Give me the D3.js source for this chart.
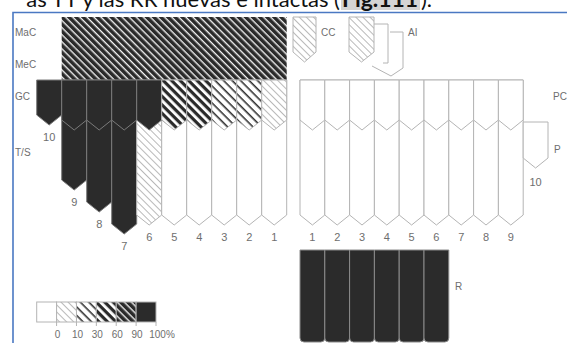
<!DOCTYPE html>
<html>
<head>
<meta charset="utf-8">
<script src="https://cdn.jsdelivr.net/npm/d3@7"></script>
<style>
  html, body { margin: 0; padding: 0; background: #fff; }
  svg { display: block; }
</style>
</head>
<body>
<svg id="chart" width="567" height="343"></svg>
<script>
// data
const rowLabels = ["MaC", "MeC", "GC", "T/S"];
const leftCols = ["10", "9", "8", "7", "6", "5", "4", "3", "2", "1"];
const gcClass = [5, 5, 5, 5, 5, 3, 3, 2, 2, 1];
const gcLen = [45, 50, 50, 50, 50, 50, 50, 50, 50, 50];
const tsClass = [null, 5, 5, 5, 1, 0, 0, 0, 0, 0];
const tsLen = [null, 110, 132, 154, 145, 145, 145, 145, 145, 145];
const rightCols = ["1", "2", "3", "4", "5", "6", "7", "8", "9", "10"];
const pcLen = [50, 50, 50, 50, 50, 50, 50, 50, 50];
const lowerLen = [145, 145, 145, 145, 145, 145, 145, 145, 145];
const pTop = 42, pLen = 88;
const rCols = ["1", "2", "3", "4", "5", "6"];
const rTop = 170, rBottom = 262;
const legendClasses = [0, 1, 2, 3, 4, 5];
const legendTicks = ["0", "10", "30", "60", "90", "100%"];

const svg = d3.select("#chart");
const defs = svg.append("defs");

const dark = "#2b2b2b";
const edge = "#b4b4b4";
const labelCol = "#6e6e6e";

// hatch patterns for the percentage classes
const hatchSpec = [
  null,
  {bg: "#fff", fg: "#a8a8a8", w: 0.8, p: 5},
  {bg: "#fff", fg: "#333", w: 1.6, p: 6},
  {bg: "#fff", fg: "#2a2a2a", w: 3.2, p: 6},
  {bg: "#2a2a2a", fg: "#f2f2f2", w: 1.4, p: 5},
  null
];
hatchSpec.forEach(function(h, i) {
  if (!h) return;
  const pat = defs.append("pattern")
    .attr("id", "h" + i)
    .attr("patternUnits", "userSpaceOnUse")
    .attr("width", h.p).attr("height", h.p)
    .attr("patternTransform", "rotate(45)");
  pat.append("rect").attr("width", h.p).attr("height", h.p).attr("fill", h.bg);
  pat.append("rect").attr("y", 0).attr("width", h.p).attr("height", h.w).attr("fill", h.fg);
});
function fillOf(c) {
  if (c === 0) return "#fff";
  if (c === 5) return dark;
  return "url(#h" + c + ")";
}
function strokeOf(c) {
  return c === 5 ? "#7a7a7a" : edge;
}

// scales
const y = d3.scaleLinear().domain([0, 263]).range([80, 343]);
const xl = d3.scaleBand().domain(leftCols).range([36.7, 286.7]);
const xr = d3.scaleBand().domain(rightCols).range([300, 548]);

function penta(x0, x1, top, tip, depth) {
  const m = (x0 + x1) / 2;
  return "M" + x0 + "," + top + "H" + x1 + "V" + (tip - depth) +
    "L" + m + "," + tip + "L" + x0 + "," + (tip - depth) + "Z";
}

// MaC / MeC block
svg.append("rect")
  .attr("x", xl("9")).attr("y", 17)
  .attr("width", xl("1") + xl.bandwidth() - xl("9"))
  .attr("height", y(0) - 17)
  .attr("fill", fillOf(4));
svg.append("line")
  .attr("x1", xl("9")).attr("x2", xl("1") + xl.bandwidth())
  .attr("y1", 48).attr("y2", 48)
  .attr("stroke", "#555").attr("stroke-width", 0.6).attr("opacity", 0.5);

// T/S teeth (under GC)
const left = leftCols.map(function(k, i) {
  return {k: k, gc: gcClass[i], gl: gcLen[i], ts: tsClass[i], tl: tsLen[i]};
});
svg.selectAll(".ts")
  .data(left.filter(function(d) { return d.ts !== null; }))
  .enter().append("path")
  .attr("d", function(d) { return penta(xl(d.k), xl(d.k) + xl.bandwidth(), y(0), y(d.tl), 10); })
  .attr("fill", function(d) { return fillOf(d.ts); })
  .attr("stroke", function(d) { return strokeOf(d.ts); })
  .attr("stroke-width", 1);

// GC teeth
svg.selectAll(".gc")
  .data(left)
  .enter().append("path")
  .attr("d", function(d) { return penta(xl(d.k), xl(d.k) + xl.bandwidth(), y(0), y(d.gl), 10); })
  .attr("fill", function(d) { return fillOf(d.gc); })
  .attr("stroke", function(d) { return strokeOf(d.gc); })
  .attr("stroke-width", 1);

// left tooth numbers
svg.selectAll(".lnum")
  .data(left)
  .enter().append("text")
  .attr("x", function(d) { return xl(d.k) + xl.bandwidth() / 2; })
  .attr("y", function(d) { return y(d.tl === null ? d.gl : d.tl) + 13; })
  .attr("text-anchor", "middle").attr("dominant-baseline", "middle")
  .style("font-family", "Liberation Sans, Arial, sans-serif")
  .style("font-size", "11px").style("fill", labelCol)
  .text(function(d) { return d.k; });

// right side: lower teeth then PC
const right = rightCols.slice(0, 9).map(function(k, i) {
  return {k: k, pl: pcLen[i], ll: lowerLen[i]};
});
svg.selectAll(".low")
  .data(right)
  .enter().append("path")
  .attr("d", function(d) { return penta(xr(d.k), xr(d.k) + xr.bandwidth(), y(0), y(d.ll), 10); })
  .attr("fill", "#fff").attr("stroke", edge).attr("stroke-width", 1);
svg.selectAll(".pc")
  .data(right)
  .enter().append("path")
  .attr("d", function(d) { return penta(xr(d.k), xr(d.k) + xr.bandwidth(), y(0), y(d.pl), 10); })
  .attr("fill", "#fff").attr("stroke", edge).attr("stroke-width", 1);
svg.append("path")
  .attr("d", penta(xr("10"), xr("10") + xr.bandwidth(), y(pTop), y(pLen), 10))
  .attr("fill", "#fff").attr("stroke", edge).attr("stroke-width", 1);

svg.selectAll(".rnum")
  .data(right)
  .enter().append("text")
  .attr("x", function(d) { return xr(d.k) + xr.bandwidth() / 2; })
  .attr("y", function(d) { return y(d.ll) + 13; })
  .attr("text-anchor", "middle").attr("dominant-baseline", "middle")
  .style("font-family", "Liberation Sans, Arial, sans-serif")
  .style("font-size", "11px").style("fill", labelCol)
  .text(function(d) { return d.k; });
svg.append("text")
  .attr("x", xr("10") + xr.bandwidth() / 2).attr("y", y(pLen) + 15)
  .attr("text-anchor", "middle").attr("dominant-baseline", "middle")
  .style("font-family", "Liberation Sans, Arial, sans-serif")
  .style("font-size", "11px").style("fill", labelCol)
  .text("10");

// R block
svg.selectAll(".r")
  .data(rCols)
  .enter().append("path")
  .attr("d", function(k) {
    const x0 = xr(k), x1 = xr(k) + xr.bandwidth(), t = y(rTop), b = y(rBottom), r = 4;
    return "M" + x0 + "," + t + "H" + x1 + "V" + (b - r) + "Q" + x1 + "," + b + " " + (x1 - r) + "," + b +
      "H" + (x0 + r) + "Q" + x0 + "," + b + " " + x0 + "," + (b - r) + "Z";
  })
  .attr("fill", dark).attr("stroke", "#8a8a8a").attr("stroke-width", 1);

// CC and AI keys
svg.append("path").attr("d", penta(293, 316, 17, 62, 10))
  .attr("fill", fillOf(1)).attr("stroke", edge);
svg.append("path").attr("d", "M374,24H388V63H383")
  .attr("fill", "none").attr("stroke", edge);
svg.append("path").attr("d", "M390,32H403V68L391,76L372,66")
  .attr("fill", "none").attr("stroke", edge);
svg.append("path").attr("d", penta(349, 374, 17, 62, 10))
  .attr("fill", fillOf(1)).attr("stroke", edge);

// side labels
const textStyle = function(sel) {
  sel.style("font-family", "Liberation Sans, Arial, sans-serif")
    .style("font-size", "10px").style("fill", labelCol)
    .attr("dominant-baseline", "middle");
};
svg.selectAll(".rowlab")
  .data(rowLabels)
  .enter().append("text")
  .attr("x", 15)
  .attr("y", function(d, i) { return [33, 65, 97, 153][i]; })
  .call(textStyle)
  .text(function(d) { return d; });
[["CC", 321, 33], ["AI", 408, 33], ["PC", 553, 97], ["P", 554, 150], ["R", 455, 287]].forEach(function(l) {
  svg.append("text").attr("x", l[1]).attr("y", l[2]).call(textStyle).text(l[0]);
});

// legend
const xlg = d3.scaleBand().domain(legendClasses).range([36.7, 156]);
svg.selectAll(".lg")
  .data(legendClasses)
  .enter().append("rect")
  .attr("x", function(d) { return xlg(d); }).attr("y", 302)
  .attr("width", xlg.bandwidth()).attr("height", 20)
  .attr("fill", function(d) { return fillOf(d); })
  .attr("stroke", edge).attr("stroke-width", 1);
svg.selectAll(".lgt")
  .data(legendTicks)
  .enter().append("line")
  .attr("x1", function(d, i) { return xlg(legendClasses[i]) + xlg.bandwidth(); })
  .attr("x2", function(d, i) { return xlg(legendClasses[i]) + xlg.bandwidth(); })
  .attr("y1", 322).attr("y2", 326)
  .attr("stroke", edge);
svg.selectAll(".lgl")
  .data(legendTicks)
  .enter().append("text")
  .attr("x", function(d, i) { return xlg(legendClasses[i]) + xlg.bandwidth() + (i === 5 ? 6 : 1); })
  .attr("y", 335)
  .attr("text-anchor", "middle")
  .call(textStyle)
  .text(function(d) { return d; });

// frame
svg.append("path").attr("d", "M13,343V12.5H567")
  .attr("fill", "none").attr("stroke", "#4a78c2").attr("stroke-width", 1.6);

// cut-off caption line above the figure
svg.append("rect").attr("x", 341).attr("y", 0).attr("width", 79).attr("height", 10).attr("fill", "#d4d4d4");
const cap = svg.append("g")
  .style("font-family", "Lato, 'Open Sans', sans-serif")
  .style("font-size", "22px").style("fill", "#111");
cap.append("text").attr("x", 340).attr("y", 7).attr("text-anchor", "end")
  .text("as TT y las RR nuevas e intactas (");
cap.append("text").attr("x", 342).attr("y", 7).style("font-weight", "bold")
  .attr("textLength", 76).attr("lengthAdjust", "spacingAndGlyphs")
  .text("Fig.111");
cap.append("text").attr("x", 421).attr("y", 7).text(").");
</script>
</body>
</html>
